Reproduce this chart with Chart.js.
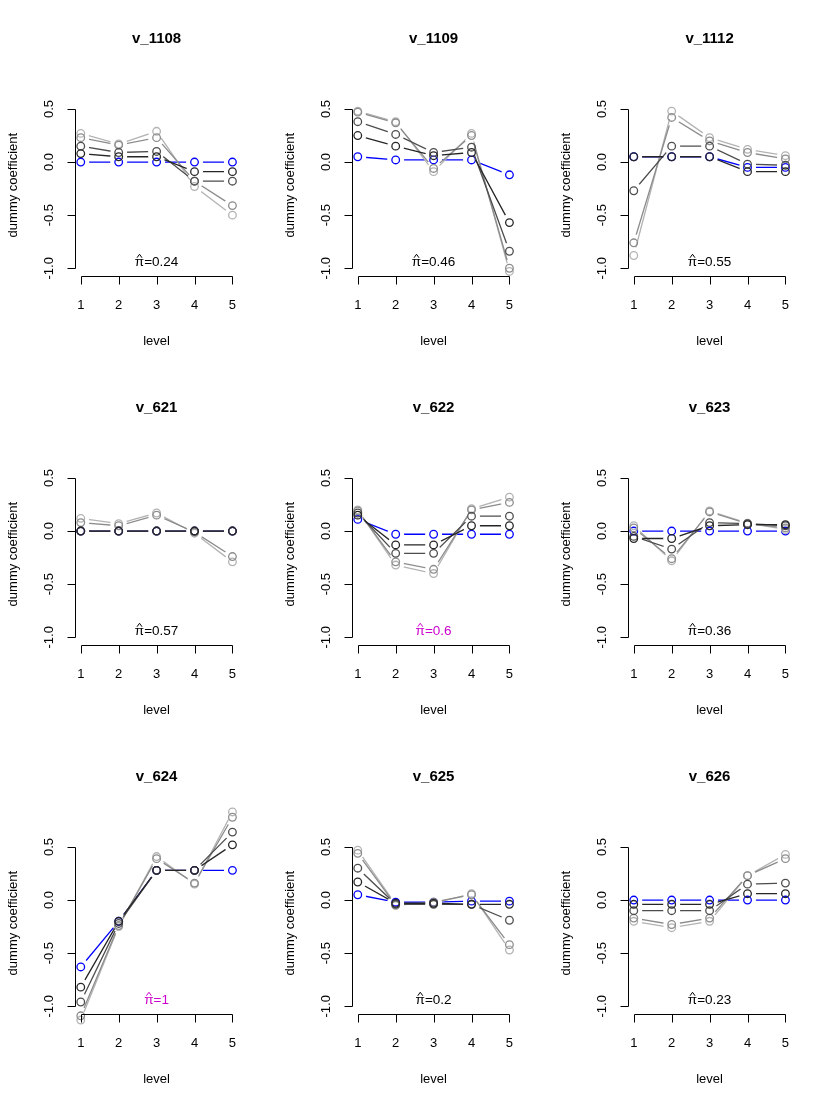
<!DOCTYPE html>
<html>
<head>
<meta charset="utf-8">
<script src="https://cdn.jsdelivr.net/npm/chart.js@4.4.0/dist/chart.umd.min.js"></script>
<style>
  html, body { margin: 0; padding: 0; background: #fff; }
  #grid { position: relative; width: 830px; height: 1107px; }
  .panel { position: absolute; width: 277px; height: 369px; }
</style>
</head>
<body>
<div id="grid"></div>
<script>
// niveis do eixo x e rotulos do eixo y
const levels = [1, 2, 3, 4, 5];
const yTicks = [-1, -0.5, 0, 0.5];
const yTickLabels = ["-1.0", "-0.5", "0.0", "0.5"];

// titulos dos paineis e valores de pi-hat
const panelTitles = ["v_1108", "v_1109", "v_1112", "v_621", "v_622", "v_623", "v_624", "v_625", "v_626"];
const piHat = ["0.24", "0.46", "0.55", "0.57", "0.6", "0.36", "1", "0.2", "0.23"];
const piSelected = [false, false, false, false, true, false, true, false, false];

// coeficientes: [azul, cinza1 (escuro), cinza2, cinza3, cinza4 (claro)]
const v1108 = [
  [0, 0, 0, 0, 0],
  [0.08, 0.05, 0.05, -0.09, -0.09],
  [0.15, 0.09, 0.1, -0.18, -0.18],
  [0.23, 0.16, 0.23, -0.18, -0.41],
  [0.27, 0.17, 0.29, -0.23, -0.5],
];
const v1109 = [
  [0.05, 0.02, 0.02, 0.02, -0.12],
  [0.25, 0.15, 0.06, 0.09, -0.57],
  [0.38, 0.26, 0.09, 0.14, -0.84],
  [0.47, 0.37, -0.06, 0.25, -1.0],
  [0.48, 0.38, -0.09, 0.27, -1.03],
];
const v1112 = [
  [0.05, 0.05, 0.05, -0.05, -0.05],
  [0.05, 0.05, 0.05, -0.09, -0.09],
  [-0.27, 0.15, 0.15, -0.02, -0.03],
  [-0.76, 0.42, 0.2, 0.09, 0.03],
  [-0.88, 0.48, 0.23, 0.12, 0.06],
];
const v621 = [
  [0, 0, 0, 0, 0],
  [0, 0, 0, 0, 0],
  [0, 0, 0, 0, 0],
  [0.08, 0.05, 0.15, -0.01, -0.24],
  [0.12, 0.07, 0.17, -0.02, -0.29],
];
const v622 = [
  [0.11, -0.03, -0.03, -0.03, -0.03],
  [0.15, -0.13, -0.13, 0.05, 0.05],
  [0.17, -0.21, -0.21, 0.14, 0.14],
  [0.19, -0.29, -0.36, 0.2, 0.27],
  [0.2, -0.32, -0.4, 0.21, 0.32],
];
const v623 = [
  [0, 0, 0, 0, 0],
  [-0.07, -0.07, 0.05, 0.06, 0.06],
  [-0.05, -0.17, 0.08, 0.07, 0.05],
  [0.03, -0.26, 0.18, 0.07, 0.03],
  [0.05, -0.28, 0.19, 0.075, 0.015],
];
const v624 = [
  [-0.63, -0.2, 0.28, 0.28, 0.28],
  [-0.82, -0.2, 0.28, 0.28, 0.52],
  [-0.96, -0.22, 0.28, 0.28, 0.64],
  [-1.09, -0.24, 0.39, 0.16, 0.78],
  [-1.13, -0.25, 0.41, 0.15, 0.83],
];
const v625 = [
  [0.05, -0.02, -0.02, -0.01, -0.01],
  [0.17, -0.03, -0.03, -0.04, -0.04],
  [0.3, -0.04, -0.04, -0.04, -0.19],
  [0.44, -0.05, -0.02, 0.05, -0.42],
  [0.47, -0.04, -0.03, 0.06, -0.47],
];
const v626 = [
  [0, 0, 0, 0, 0],
  [-0.04, -0.04, -0.04, 0.06, 0.06],
  [-0.1, -0.1, -0.1, 0.15, 0.16],
  [-0.17, -0.23, -0.17, 0.23, 0.39],
  [-0.2, -0.26, -0.2, 0.23, 0.43],
];
const panelData = [v1108, v1109, v1112, v621, v622, v623, v624, v625, v626];

// estilos
const seriesColors = ["#0000ff", "#262626", "#4d4d4d", "#8c8c8c", "#b3b3b3"];
const seriesOrder = [5, 1, 2, 3, 4]; // azul por baixo, escuro por cima
const FONT = '"Liberation Sans", Arial, Helvetica, sans-serif';
const X_AXIS_AT = -1.07; // posicao da linha do eixo x (limite da regiao do R)

// recorta a linha perto dos pontos (como type="b" do R)
const gapPlugin = {
  id: "gap",
  beforeDatasetDraw(chart, args) {
    const ds = chart.data.datasets[args.index];
    if (!ds.gapRadius) return;
    const ctx = chart.ctx;
    const r = ds.gapRadius;
    ctx.save();
    ctx.beginPath();
    ctx.rect(0, 0, chart.width, chart.height);
    args.meta.data.forEach((p) => {
      ctx.moveTo(p.x + r, p.y);
      ctx.arc(p.x, p.y, r, 0, Math.PI * 2);
    });
    ctx.clip("evenodd");
  },
  afterDatasetDraw(chart, args) {
    const ds = chart.data.datasets[args.index];
    if (ds.gapRadius) chart.ctx.restore();
  },
};

// eixos, titulos e texto no estilo R
function makeAxesPlugin(idx) {
  return {
    id: "rAxes" + idx,
    afterDraw(chart) {
      const { ctx, chartArea: a } = chart;
      const x = chart.scales.x, y = chart.scales.y;
      const cx = (a.left + a.right) / 2;
      const yBottom = y.getPixelForValue(X_AXIS_AT);
      ctx.save();
      ctx.strokeStyle = "#000";
      ctx.fillStyle = "#000";
      ctx.lineWidth = 1;

      const ax = Math.round(a.left) + 0.5;
      const ay = Math.round(yBottom) + 0.5;
      ctx.beginPath();
      ctx.moveTo(ax, Math.round(y.getPixelForValue(0.5)) + 0.5);
      ctx.lineTo(ax, Math.round(y.getPixelForValue(-1)) + 0.5);
      yTicks.forEach((v) => {
        const py = Math.round(y.getPixelForValue(v)) + 0.5;
        ctx.moveTo(ax, py);
        ctx.lineTo(ax - 8, py);
      });
      ctx.moveTo(Math.round(x.getPixelForValue(1)) + 0.5, ay);
      ctx.lineTo(Math.round(x.getPixelForValue(5)) + 0.5, ay);
      levels.forEach((l) => {
        const px = Math.round(x.getPixelForValue(l)) + 0.5;
        ctx.moveTo(px, ay);
        ctx.lineTo(px, ay + 8);
      });
      ctx.stroke();

      // rotulos do eixo y (rodados)
      ctx.font = "13px " + FONT;
      ctx.textAlign = "center";
      ctx.textBaseline = "alphabetic";
      yTicks.forEach((v, i) => {
        ctx.save();
        ctx.translate(53, y.getPixelForValue(v));
        ctx.rotate(-Math.PI / 2);
        ctx.fillText(yTickLabels[i], 0, 0);
        ctx.restore();
      });
      const yTop = y.getPixelForValue(0.56);
      ctx.save();
      ctx.translate(17, (yTop + yBottom) / 2 - 4);
      ctx.rotate(-Math.PI / 2);
      ctx.fillText("dummy coefficient", 0, 0);
      ctx.restore();

      // rotulos do eixo x
      levels.forEach((l) => {
        ctx.fillText(String(l), x.getPixelForValue(l), yBottom + 33);
      });
      ctx.fillText("level", cx, yBottom + 69);

      // titulo
      ctx.font = "bold 15px " + FONT;
      ctx.fillText(panelTitles[idx], cx, 43);

      // pi-hat
      const col = piSelected[idx] ? "#cd00cd" : "#000";
      ctx.fillStyle = col;
      ctx.strokeStyle = col;
      ctx.font = "13.5px " + FONT;
      const rest = "=" + piHat[idx];
      const wPi = ctx.measureText("\u03c0").width;
      const wRest = ctx.measureText(rest).width;
      const tx = x.getPixelForValue(3) - (wPi + wRest) / 2;
      const by = y.getPixelForValue(-1) - 2.5;
      ctx.textAlign = "left";
      ctx.fillText("\u03c0", tx, by);
      ctx.fillText(rest, tx + wPi, by);
      const hx = tx + wPi / 2;
      ctx.beginPath();
      ctx.moveTo(hx - 2.5, by - 8);
      ctx.lineTo(hx, by - 11.5);
      ctx.lineTo(hx + 2.5, by - 8);
      ctx.stroke();
      ctx.restore();
    },
  };
}

function buildPanel(idx) {
  const div = document.createElement("div");
  div.className = "panel";
  div.style.left = Math.round((idx % 3) * 830 / 3) + "px";
  div.style.top = Math.floor(idx / 3) * 369 + "px";
  const canvas = document.createElement("canvas");
  canvas.width = 277;
  canvas.height = 369;
  div.appendChild(canvas);
  document.getElementById("grid").appendChild(div);

  const datasets = [];
  panelData[idx].forEach((values, s) => {
    const pts = levels.map((l, i) => ({ x: l, y: values[i] }));
    datasets.push({
      data: pts,
      borderColor: seriesColors[s],
      borderWidth: 1.3,
      pointRadius: 0,
      fill: false,
      tension: 0,
      clip: false,
      order: seriesOrder[s],
      gapRadius: 8.5,
    });
    datasets.push({
      data: pts,
      showLine: false,
      pointRadius: 3.8,
      pointBorderWidth: 1.3,
      pointBorderColor: seriesColors[s],
      pointBackgroundColor: "rgba(0,0,0,0)",
      clip: false,
      order: seriesOrder[s],
    });
  });

  // area do grafico alargada para que os pontos fora de [-1, 0.5] tambem aparecam
  new Chart(canvas.getContext("2d"), {
    type: "line",
    data: { datasets: datasets },
    options: {
      responsive: false,
      animation: false,
      events: [],
      layout: { padding: { left: 74.7, right: 38.5, top: 66.5, bottom: 79.5 } },
      plugins: { legend: { display: false }, tooltip: { enabled: false } },
      scales: {
        x: { type: "linear", min: 0.84, max: 5.16, display: false },
        y: { type: "linear", min: -1.2, max: 0.9, display: false },
      },
    },
    plugins: [gapPlugin, makeAxesPlugin(idx)],
  });
}

for (let i = 0; i < 9; i++) buildPanel(i);
</script>
</body>
</html>
